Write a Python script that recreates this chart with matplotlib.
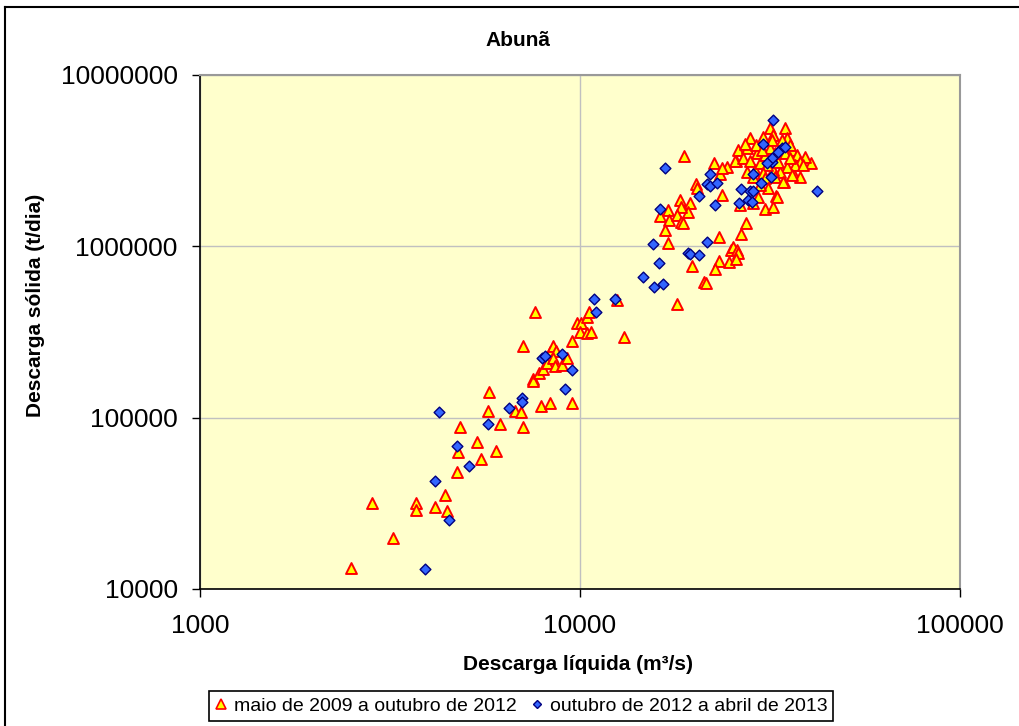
import matplotlib
matplotlib.use("Agg")
import matplotlib.pyplot as plt
from matplotlib.lines import Line2D

plt.rcParams["font.family"] = ["Liberation Sans", "DejaVu Sans"]

# maio de 2009 a outubro de 2012 (triangulos)
tri_q = [2500, 2840, 3220, 3700, 3700, 4150, 4410, 4470, 4750, 4780, 5360, 5490,
         6010, 4830, 5730, 5760, 6160, 6750, 6990, 7080, 7900, 8340, 9530,
         7610, 7080, 7520, 7520, 7800, 7990, 8190, 8340, 8490, 8650, 8490, 8600,
         8970, 9240, 9530, 9820, 10060, 10000, 10430, 10560, 10430, 10690, 13060,
         12520, 18000,
         18780, 22530, 23360, 24370, 25730, 20200, 20320, 18330, 19480, 19240,
         18440, 17050, 16240, 17150, 18000, 18440, 18670, 16740, 17050, 23220,
         27340, 26530, 24970, 25270, 25890, 26050, 24670, 25730, 23220, 22670,
         19710, 21200, 21460, 30680, 32200, 32800, 34420, 36350, 37930, 40550,
         28010, 26050, 25580, 23640, 27510, 29220, 26850, 28010, 27510, 28870,
         29760, 30680, 30300, 31620, 32200, 34630, 35050, 36130, 37240, 39100,
         37930, 36800, 35050, 33610, 32200, 31050, 30300, 28520, 30680, 32600,
         34220, 36130, 33200, 32600, 31620, 33610, 34630, 35690, 38630, 31240,
         29400, 28520, 26370, 33000, 29760, 32010, 34010, 27180, 29050, 35690,
         30120, 23640]
tri_s = [13200, 31700, 19800, 31700, 28900, 30100, 35300, 28500, 48100, 63000, 72000, 57300,
         63800, 88100, 109000, 141000, 91800, 109000, 108000, 88100, 117000, 122000, 122000,
         413000, 262000, 168000, 164000, 182000, 192000, 208000, 241000, 262000, 245000, 223000, 200000,
         203000, 223000, 280000, 357000, 357000, 316000, 387000, 413000, 312000, 316000, 295000,
         486000, 460000,
         3366000, 3062000, 2642000, 2902000, 3146000, 2310000, 2189000, 1863000, 1789000, 1585000,
         1695000, 1628000, 1502000, 1423000, 1522000, 1386000, 1368000, 1245000, 1045000, 1133000,
         1368000, 1180000, 951000, 990000, 951000, 914000, 811000, 842000, 819000, 737000,
         767000, 619000, 611000, 1650000, 1695000, 1965000, 2373000, 2678000, 2538000, 3062000,
         4287000, 3649000, 3146000, 2864000, 3748000, 3505000, 3276000, 3146000, 2714000, 2788000,
         3062000, 3412000, 4346000, 4905000, 4464000, 4905000, 4287000, 3649000, 3412000, 3321000,
         3104000, 2981000, 2902000, 2714000, 2788000, 2981000, 2678000, 2538000, 2504000, 2538000,
         2373000, 2607000, 3104000, 3505000, 3748000, 3799000, 3505000, 3276000, 2981000, 2189000,
         1939000, 1789000, 1741000, 1939000, 2279000, 4173000, 4173000, 3955000, 3900000, 3900000,
         3650000, 1990000]

# outubro de 2012 a abril de 2013 (losangos)
dia_q = [4255, 5730, 4750, 5100, 4150, 4520, 3910, 6500, 7040, 7040, 9130, 7940,
         8090, 8970, 9530, 10890, 12370, 11020, 15660, 16540, 14650, 16740, 21990,
         21590, 21990, 22940, 20570, 22670, 16240, 15560, 19240, 19480, 20570, 21590,
         16140, 26530, 28520, 28010, 28520, 27680, 28350, 26200, 29940, 31810, 32010,
         42060, 32200, 30300, 34010, 33200, 32010, 34630, 31050]
dia_s = [108000, 91800, 68200, 52200, 42700, 25250, 13100, 114000, 130000, 123000, 147000, 223000,
         229000, 235000, 190000, 492000, 492000, 413000, 578000, 602000, 662000, 2864000, 2642000,
         2310000, 2249000, 2341000, 1965000, 1741000, 1650000, 1031000, 914000, 902000, 890000, 1060000,
         799000, 2160000, 2642000, 2102000, 2102000, 1863000, 1813000, 1789000, 2341000, 2538000, 3104000,
         2102000, 5461000, 3955000, 3748000, 3552000, 3276000, 3799000, 3062000]

labels = ["maio de 2009 a outubro de 2012", "outubro de 2012 a abril de 2013"]

fig = plt.figure(figsize=(10.2, 7.26), dpi=100)
ax = fig.add_axes([200/1020, 1 - 589/726, 760/1020, 514/726])
ax.set_facecolor("#FFFFCC")

ax.scatter(tri_q, tri_s, marker="^", s=62, facecolor="#FFFF00", edgecolor="#FF0000",
           linewidth=1.4, zorder=3)
ax.scatter(dia_q, dia_s, marker="D", s=30, facecolor="#3366FF", edgecolor="#000080",
           linewidth=1.0, zorder=4)

ax.set_xscale("log"); ax.set_yscale("log")
ax.set_xlim(1000, 100000); ax.set_ylim(10000, 10000000)
ax.set_xticks([1000, 10000, 100000], ["1000", "10000", "100000"])
ax.set_yticks([10000, 100000, 1000000, 10000000], ["10000", "100000", "1000000", "10000000"])
ax.minorticks_off()
ax.tick_params(direction="out", length=6, width=1, labelsize=19)
ax.tick_params(axis="y", pad=10)
ax.tick_params(axis="x", pad=12)
ax.grid(True, color="#C0C0C0", linewidth=1, zorder=0)
ax.set_axisbelow(True)
for s in ("top", "right"):
    ax.spines[s].set_color("#999999"); ax.spines[s].set_linewidth(1.5)
for s in ("left", "bottom"):
    ax.spines[s].set_color("black"); ax.spines[s].set_linewidth(1.2)

fig.text(518/1020, 1 - 41/726, "Abunã", ha="center", va="center", fontsize=15, fontweight="bold")
fig.text(578/1020, 1 - 665/726, "Descarga líquida (m³/s)", ha="center", va="center",
         fontsize=15, fontweight="bold")
fig.text(36/1020, 1 - 305/726, "Descarga sólida (t/dia)", ha="center", va="center",
         rotation=90, fontsize=15, fontweight="bold")

# moldura externa
fig.add_artist(Line2D([5/1020, 5/1020], [0, 1 - 7/726], transform=fig.transFigure,
                      color="black", linewidth=1.5))
fig.add_artist(Line2D([5/1020, 1], [1 - 7/726, 1 - 7/726], transform=fig.transFigure,
                      color="black", linewidth=1.5))

handles = [Line2D([], [], marker="^", linestyle="None", markersize=6.5, markerfacecolor="#FFFF00",
                  markeredgecolor="#FF0000", markeredgewidth=1.2),
           Line2D([], [], marker="D", linestyle="None", markersize=4.5, markerfacecolor="#3366FF",
                  markeredgecolor="#000080", markeredgewidth=1.0)]
leg = fig.legend(handles, labels, loc="center", bbox_to_anchor=(521/1020, 1 - 706/726), ncol=2,
                 fontsize=14, frameon=True, fancybox=False, edgecolor="black", framealpha=1,
                 handlelength=0.7, handletextpad=0.3, columnspacing=0.7, borderpad=0.3,
                 borderaxespad=0)
leg.get_frame().set_linewidth(1.2)

fig.savefig("out.png", dpi=100)
